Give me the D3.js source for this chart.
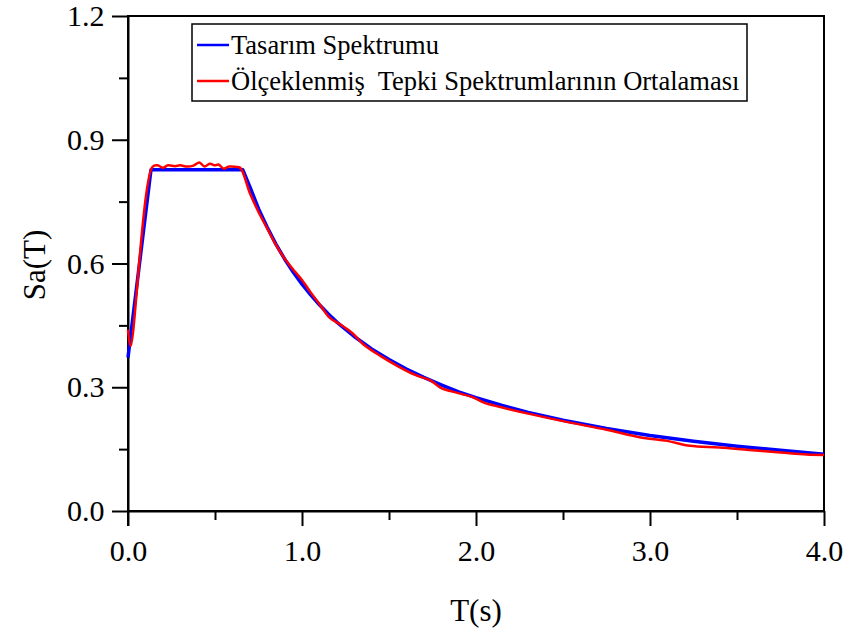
<!DOCTYPE html>
<html>
<head>
<meta charset="utf-8">
<script src="https://cdn.jsdelivr.net/npm/d3@7"></script>
<style>
  body { margin: 0; background: #fff; }
  text { font-family: "Liberation Serif", "Times New Roman", serif; }
</style>
</head>
<body>
<svg id="chart"></svg>
<script>
// design spectrum (blue)
let designT = [0, 0.132, 0.66, 0.70, 0.75, 0.80, 0.85, 0.90, 0.95, 1.0, 1.05, 1.1, 1.15, 1.2, 1.3, 1.4, 1.5, 1.6, 1.7, 1.8, 1.9, 2.0, 2.15, 2.3, 2.5, 2.75, 3.0, 3.25, 3.5, 3.75, 4.0];
let designSa = [0.372, 0.827, 0.827, 0.786, 0.733, 0.688, 0.647, 0.611, 0.579, 0.55, 0.524, 0.50, 0.478, 0.458, 0.423, 0.393, 0.367, 0.344, 0.324, 0.306, 0.289, 0.275, 0.256, 0.239, 0.22, 0.2, 0.183, 0.169, 0.157, 0.147, 0.1375];

// mean of scaled response spectra (red)
let meanT = [0, 0.015, 0.14, 0.17, 0.20, 0.23, 0.27, 0.30, 0.34, 0.38, 0.41, 0.44, 0.47, 0.50, 0.52, 0.55, 0.58, 0.62, 0.645, 0.70, 0.75, 0.80, 0.85, 0.90, 0.95, 0.97, 1.0, 1.05, 1.10, 1.16, 1.22, 1.29, 1.35, 1.45, 1.56, 1.65, 1.74, 1.80, 1.86, 1.98, 2.05, 2.14, 2.30, 2.52, 2.75, 2.94, 3.10, 3.23, 3.40, 3.57, 3.75, 3.90, 4.0];
let meanSa = [0.44, 0.40, 0.834, 0.838, 0.832, 0.838, 0.836, 0.838, 0.835, 0.838, 0.845, 0.835, 0.842, 0.838, 0.840, 0.830, 0.835, 0.834, 0.832, 0.771, 0.725, 0.685, 0.645, 0.612, 0.585, 0.575, 0.560, 0.530, 0.502, 0.468, 0.452, 0.431, 0.405, 0.376, 0.349, 0.330, 0.316, 0.298, 0.290, 0.276, 0.262, 0.252, 0.236, 0.216, 0.197, 0.179, 0.170, 0.158, 0.154, 0.148, 0.142, 0.137, 0.136];

let xTicks = [0, 1, 2, 3, 4];
let xMinor = [0.5, 1.5, 2.5, 3.5];
let yTicks = [0, 0.3, 0.6, 0.9, 1.2];
let yMinor = [0.15, 0.45, 0.75, 1.05];

let legendNames = ["Tasarım Spektrumu", "Ölçeklenmiş  Tepki Spektrumlarının Ortalaması"];
let colors = ["#0000ff", "#ff0000"];

let width = 850;
let height = 638;
let padLeft = 128, padRight = 824, padTop = 16, padBottom = 511;
let serif = "Liberation Serif, Times New Roman, serif";

let svg = d3.select("#chart").attr("width", width).attr("height", height);

let xScale = d3.scaleLinear().domain([0, 4]).range([padLeft, padRight]);
let yScale = d3.scaleLinear().domain([0, 1.2]).range([padBottom, padTop]);

// frame
svg.append("rect")
  .attr("x", padLeft).attr("y", padTop)
  .attr("width", padRight - padLeft).attr("height", padBottom - padTop)
  .attr("fill", "none").attr("stroke", "#000").attr("stroke-width", 2);

// x axis
let xAxis = d3.axisBottom(xScale).tickValues(xTicks).tickSize(15).tickSizeOuter(0)
  .tickFormat(d3.format(".1f"));
let gx = svg.append("g").attr("transform", "translate(0," + padBottom + ")").call(xAxis)
  .attr("font-family", serif);
svg.append("g").attr("transform", "translate(0," + padBottom + ")")
  .call(d3.axisBottom(xScale).tickValues(xMinor).tickSize(9).tickSizeOuter(0).tickFormat(""))
  .call(g => g.select(".domain").remove());

// y axis
let yAxis = d3.axisLeft(yScale).tickValues(yTicks).tickSize(16).tickSizeOuter(0)
  .tickFormat(d3.format(".1f"));
let gy = svg.append("g").attr("transform", "translate(" + padLeft + ",0)").call(yAxis)
  .attr("font-family", serif);
svg.append("g").attr("transform", "translate(" + padLeft + ",0)")
  .call(d3.axisLeft(yScale).tickValues(yMinor).tickSize(9).tickSizeOuter(0).tickFormat(""))
  .call(g => g.select(".domain").remove());

svg.selectAll(".tick line").attr("stroke", "#000").attr("stroke-width", 2);
svg.selectAll(".domain").attr("stroke", "#000").attr("stroke-width", 2);
gx.selectAll(".tick text").attr("font-size", 30).attr("fill", "#000").attr("dy", "1.08em");
gy.selectAll(".tick text").attr("font-size", 30).attr("fill", "#000").attr("dx", "-0.15em");

// extend left axis below x axis (0 tick)
svg.append("line")
  .attr("x1", padLeft).attr("x2", padLeft)
  .attr("y1", padBottom).attr("y2", padBottom + 15)
  .attr("stroke", "#000").attr("stroke-width", 2);

// axis titles
svg.append("text")
  .attr("x", 476).attr("y", 621)
  .attr("text-anchor", "middle").attr("font-size", 31)
  .text("T(s)");
svg.append("text")
  .attr("transform", "translate(45," + 265 + ") rotate(-90)")
  .attr("text-anchor", "middle").attr("font-size", 31)
  .text("Sa(T)");

// lines
let line = d3.line()
  .x(d => xScale(d[0]))
  .y(d => yScale(d[1]));

let designData = designT.map((t, i) => [t, designSa[i]]);
let meanData = meanT.map((t, i) => [t, meanSa[i]]);

svg.append("path")
  .datum(designData)
  .attr("fill", "none")
  .attr("stroke", colors[0])
  .attr("stroke-width", 3.5)
  .attr("stroke-linejoin", "round")
  .attr("d", line);

svg.append("path")
  .datum(meanData)
  .attr("fill", "none")
  .attr("stroke", colors[1])
  .attr("stroke-width", 2.5)
  .attr("stroke-linejoin", "round")
  .attr("d", line.curve(d3.curveCatmullRom.alpha(0.5)));

// legend
let legend = svg.append("g");
legend.append("rect")
  .attr("x", 192).attr("y", 24)
  .attr("width", 555).attr("height", 77)
  .attr("fill", "#fff").attr("stroke", "#000").attr("stroke-width", 1.5);

legendNames.forEach((name, i) => {
  let y = 45 + i * 36;
  legend.append("line")
    .attr("x1", 197).attr("x2", 229)
    .attr("y1", y).attr("y2", y)
    .attr("stroke", colors[i]).attr("stroke-width", 2.5);
  legend.append("text")
    .attr("x", 231).attr("y", y + 9)
    .attr("font-size", 26.5)
    .style("white-space", "pre")
    .text(name);
});
</script>
</body>
</html>
